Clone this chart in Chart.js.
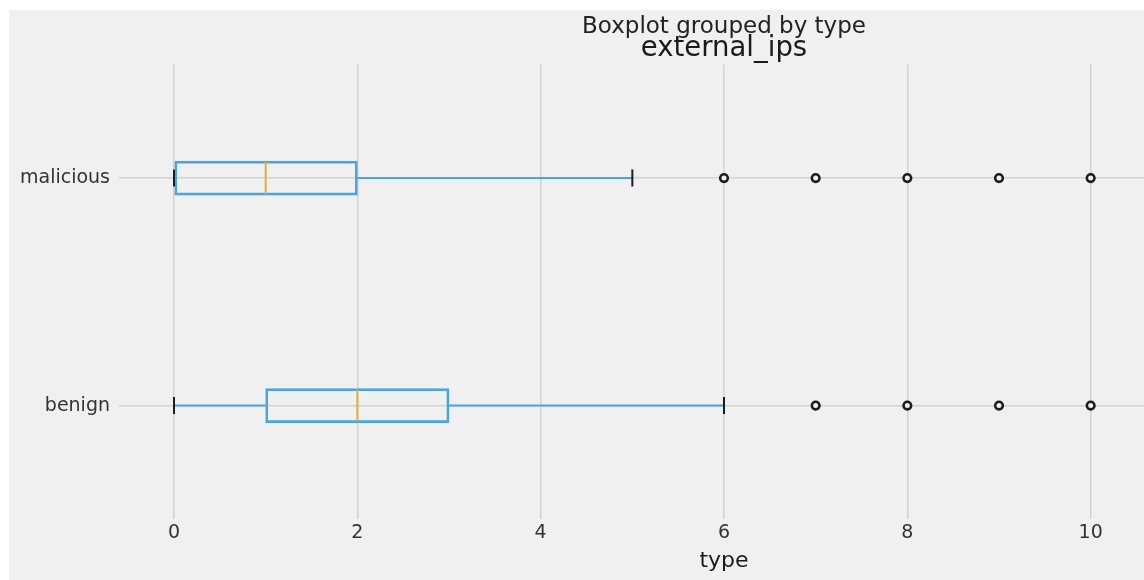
<!DOCTYPE html>
<html>
<head>
<meta charset="utf-8">
<script src="https://cdn.jsdelivr.net/npm/chart.js@4"></script>
<style>
  html, body { margin: 0; padding: 0; background: #ffffff; overflow: hidden; }
  #frame { position: absolute; left: 9px; top: 10px; width: 1135px; height: 570px; overflow: hidden; background: #f0f0f0; }
  canvas { display: block; }
</style>
</head>
<body>
<div id="frame"><canvas id="c" width="1430" height="570"></canvas></div>
<script>
// external_ips per traffic type: five-number summary plus outliers
const categories  = ['malicious', 'benign'];
const whiskerLow  = [0, 0];
const q1          = [0, 1];
const median      = [1, 2];
const q3          = [2, 3];
const whiskerHigh = [5, 6];
const outliers    = [[6, 7, 8, 9, 10], [7, 8, 9, 10]];
const xTicks      = [0, 2, 4, 6, 8, 10, 12];

const BOX_BLUE = '#4aa3e3';
const MEDIAN_YELLOW = '#e5ae38';
const CAP_BLACK = '#1c1c1c';
const GRID = '#d2d2d2';

Chart.defaults.font.family = "'DejaVu Sans', sans-serif";

const datasets = [];

// medians: short vertical strokes across each box
datasets.push({
  type: 'scatter',
  data: categories.map((c, i) => ({ x: median[i], y: c })),
  pointStyle: 'line', rotation: 90,
  pointRadius: 16, pointHoverRadius: 16,
  borderColor: MEDIAN_YELLOW, borderWidth: 2
});

// whisker caps
datasets.push({
  type: 'scatter',
  data: categories.flatMap((c, i) => [{ x: whiskerLow[i], y: c }, { x: whiskerHigh[i], y: c }]),
  pointStyle: 'line', rotation: 90,
  pointRadius: 8.5, pointHoverRadius: 8.5,
  borderColor: CAP_BLACK, borderWidth: 2
});

// outliers
datasets.push({
  type: 'scatter',
  data: categories.flatMap((c, i) => outliers[i].map(v => ({ x: v, y: c }))),
  pointStyle: 'circle',
  pointRadius: 3.8, pointHoverRadius: 3.8,
  borderColor: CAP_BLACK, borderWidth: 2.6,
  backgroundColor: '#f0f0f0'
});

// whiskers
categories.forEach((c, i) => {
  [[whiskerLow[i], q1[i]], [q3[i], whiskerHigh[i]]].forEach(([a, b]) => {
    datasets.push({
      type: 'scatter',
      showLine: true,
      data: [{ x: a, y: c }, { x: b, y: c }],
      borderColor: BOX_BLUE, borderWidth: 2,
      pointRadius: 0, pointHoverRadius: 0
    });
  });
});

// boxes: Q1..Q3 as floating bars
datasets.push({
  type: 'bar',
  indexAxis: 'y',
  data: categories.map((c, i) => [q1[i], q3[i]]),
  backgroundColor: 'rgba(0,0,0,0)',
  borderColor: BOX_BLUE,
  borderWidth: 2,
  borderSkipped: false,
  barThickness: 34
});

new Chart(document.getElementById('c'), {
  type: 'bar',
  data: { labels: categories, datasets },
  options: {
    responsive: false,
    animation: false,
    events: [],
    layout: { padding: 0 },
    plugins: {
      legend: { display: false },
      tooltip: { enabled: false },
      title: {
        display: true,
        text: 'Boxplot grouped by type',
        color: '#222222',
        font: { size: 23, weight: 'normal', lineHeight: 0.6 },
        padding: { top: 10.5, bottom: 0 }
      },
      subtitle: {
        display: true,
        text: 'external_ips',
        color: '#1a1a1a',
        font: { size: 27.5, weight: 'normal', lineHeight: 0.9 },
        padding: { top: 2.5, bottom: 2.8 }
      }
    },
    scales: {
      x: {
        type: 'linear',
        min: -0.6,
        max: 12.6,
        offset: false,
        afterBuildTicks: s => { s.ticks = xTicks.map(v => ({ value: v })); },
        afterFit: s => { s.height = 60.7; },
        grid: { color: GRID, lineWidth: 1.5, drawTicks: false, offset: false },
        border: { display: false },
        ticks: { color: '#333333', font: { size: 19 }, padding: 2.7, autoSkip: false },
        title: {
          display: true,
          text: 'type',
          color: '#1a1a1a',
          font: { size: 22 },
          padding: { top: 0, bottom: 5.8 }
        }
      },
      y: {
        type: 'category',
        offset: true,
        afterFit: s => { s.width = 110; },
        grid: { color: GRID, lineWidth: 1.5, drawTicks: false, offset: false },
        border: { display: false },
        ticks: { color: '#333333', font: { size: 19 }, padding: 9 }
      },
      y2: {
        type: 'linear',
        axis: 'y',
        position: 'right',
        afterFit: s => { s.width = 110; },
        grid: { display: false },
        border: { display: false },
        ticks: { display: false }
      }
    }
  }
});
</script>
</body>
</html>
